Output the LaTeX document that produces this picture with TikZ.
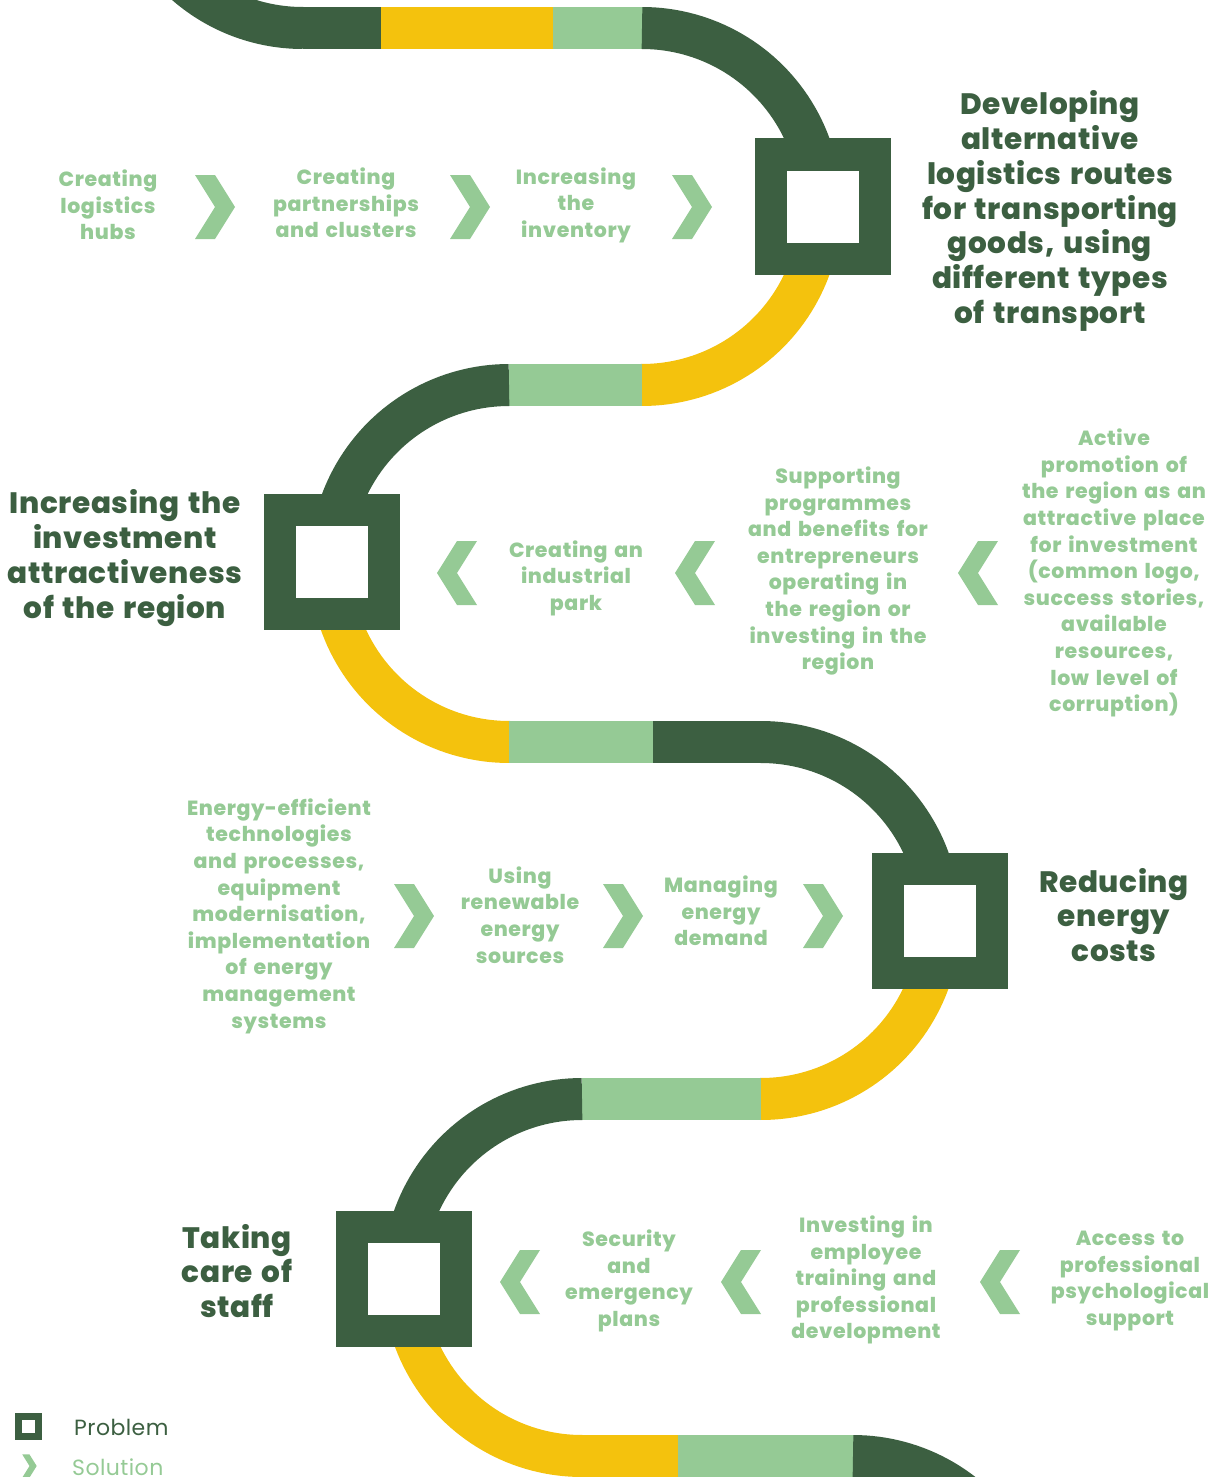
\documentclass[tikz,border=0pt]{standalone}
\usepackage{fontspec}
\setmainfont{Poppins}
\newfontfamily\titlefam{Poppins}[UprightFont={* ExtraBold}, LetterSpace=2, WordSpace=1.4]
\newfontfamily\solfam{Poppins}[UprightFont={* ExtraBold}, LetterSpace=3, WordSpace=1.5]
\newfontfamily\legfam{Poppins}[LetterSpace=2]
\definecolor{dk}{HTML}{3C5F41}
\definecolor{yl}{HTML}{F4C20D}
\definecolor{lg}{HTML}{95CA95}
\tikzset{
  road/.style={line width=42pt, draw=#1},
  problem/.style={draw=dk, line width=32pt, fill=white, minimum size=104pt, inner sep=0pt, outer sep=0pt},
  title/.style={text=dk, align=center, font=\titlefam\fontsize{29.5}{34.7}\selectfont, inner sep=0pt},
  sol/.style={text=lg, align=center, font=\solfam\fontsize{20.5}{26.6}\selectfont, inner sep=0pt},
  pics/chevR/.style={code={\fill[lg] (-20,32) -- (0,32) -- (20,0) -- (0,-32) -- (-20,-32) -- (0,0) -- cycle;}},
  pics/chevL/.style={code={\fill[lg] (20,32) -- (0,32) -- (-20,0) -- (0,-32) -- (20,-32) -- (0,0) -- cycle;}},
}
\begin{document}
\begin{tikzpicture}[x=1pt,y=1pt]
\useasboundingbox (0,0) rectangle (1221,-1477);
\begin{scope}
\clip (0,0) rectangle (1221,-1477);
% top-left arc
\draw[road=dk] (124.5,150.5) arc[start angle=180,end angle=270,radius=178.5];
% row 28
\draw[road=dk] (302.5,-28) -- (381.5,-28);
\draw[road=yl] (381,-28) -- (553.5,-28);
\draw[road=lg] (553,-28) -- (642.5,-28);
% arc 1
\draw[road=dk] (642,-28) arc[start angle=90,end angle=-1,radius=178.5];
\draw[road=yl] (820.5,-206.5) arc[start angle=0,end angle=-90.3,radius=178.5];
% row 385
\draw[road=lg] (642,-385) -- (509,-385);
% arc 2
\draw[road=dk] (509,-385) arc[start angle=90,end angle=181,radius=178.5];
\draw[road=yl] (330.5,-563.5) arc[start angle=180,end angle=270.3,radius=178.5];
% row 742
\draw[road=lg] (508.5,-742) -- (653.5,-742);
\draw[road=dk] (653,-742) -- (761.5,-742);
% arc 3
\draw[road=dk] (761,-742) arc[start angle=90,end angle=-1,radius=178.5];
\draw[road=yl] (939.5,-920.5) arc[start angle=0,end angle=-90.3,radius=178.5];
% row 1099
\draw[road=lg] (761,-1099) -- (582,-1099);
% arc 4
\draw[road=dk] (582,-1099) arc[start angle=90,end angle=181,radius=178.5];
\draw[road=yl] (403.5,-1277.5) arc[start angle=180,end angle=270.3,radius=178.5];
% row 1456
\draw[road=yl] (581.5,-1456) -- (678.5,-1456);
\draw[road=lg] (678,-1456) -- (853.5,-1456);
% bottom-right arc
\draw[road=dk] (853,-1456) arc[start angle=90,end angle=30,radius=178.5];
\end{scope}

% problem boxes
\node[problem] (p1) at (823,-206.5) {};
\node[problem] (p2) at (331.5,-562) {};
\node[problem] (p3) at (940,-921) {};
\node[problem] (p4) at (404,-1279) {};

% titles
\node[title] (t1) at (1050,-211) {Developing\\alternative\\logistics routes\\for transporting\\goods, using\\different types\\of transport};
\node[title] (t2) at (125,-558) {Increasing the\\investment\\attractiveness\\of the region};
\node[title] (t3) at (1114,-915) {Reducing\\energy\\costs};
\node[title] (t4) at (237,-1271) {Taking\\care of\\staff};

% row 1
\node[sol] (s11) at (108,-205) {Creating\\logistics\\hubs};
\node[sol] (s12) at (346,-203) {Creating\\partnerships\\and clusters};
\node[sol] (s13) at (576,-205) {Increasing\\the\\inventory};
\pic at (215,-207) {chevR};
\pic at (470,-207) {chevR};
\pic at (692,-207) {chevR};

% row 2
\node[sol] (s21) at (576,-578) {Creating an\\industrial\\park};
\node[sol] (s22) at (838,-571) {Supporting\\programmes\\and benefits for\\entrepreneurs\\operating in\\the region or\\investing in the\\region};
\node[sol] (s23) at (1114,-573) {Active\\promotion of\\the region as an\\attractive place\\for investment\\(common logo,\\success stories,\\available\\resources,\\low level of\\corruption)};
\pic at (457,-573) {chevL};
\pic at (695,-573) {chevL};
\pic at (978,-573) {chevL};

% row 3
\node[sol] (s31) at (279,-916) {Energy-efficient\\technologies\\and processes,\\equipment\\modernisation,\\implementation\\of energy\\management\\systems};
\node[sol] (s32) at (520,-915) {Using\\renewable\\energy\\sources};
\node[sol] (s33) at (721,-911) {Managing\\energy\\demand};
\pic at (414,-916) {chevR};
\pic at (623,-916) {chevR};
\pic at (823,-916) {chevR};

% row 4
\node[sol] (s41) at (629,-1281) {Security\\and\\emergency\\plans};
\node[sol] (s42) at (866,-1280) {Investing in\\employee\\training and\\professional\\development};
\node[sol] (s43) at (1130,-1281) {Access to\\professional\\psychological\\support};
\pic at (520,-1282) {chevL};
\pic at (741,-1282) {chevL};
\pic at (1000,-1282) {chevL};

% legend
\node[draw=dk, line width=7pt, fill=white, minimum size=20pt, inner sep=0pt] (lp) at (28.5,-1426.5) {};
\node[anchor=west, text=dk, font=\legfam\fontsize{22}{24}\selectfont, inner sep=0pt] (lpt) at (74,-1427) {Problem};
\pic[scale=0.36] at (29.5,-1466) {chevR};
\node[anchor=west, text=lg, font=\legfam\fontsize{22}{24}\selectfont, inner sep=0pt] (lst) at (72,-1467) {Solution};
\end{tikzpicture}
\end{document}
